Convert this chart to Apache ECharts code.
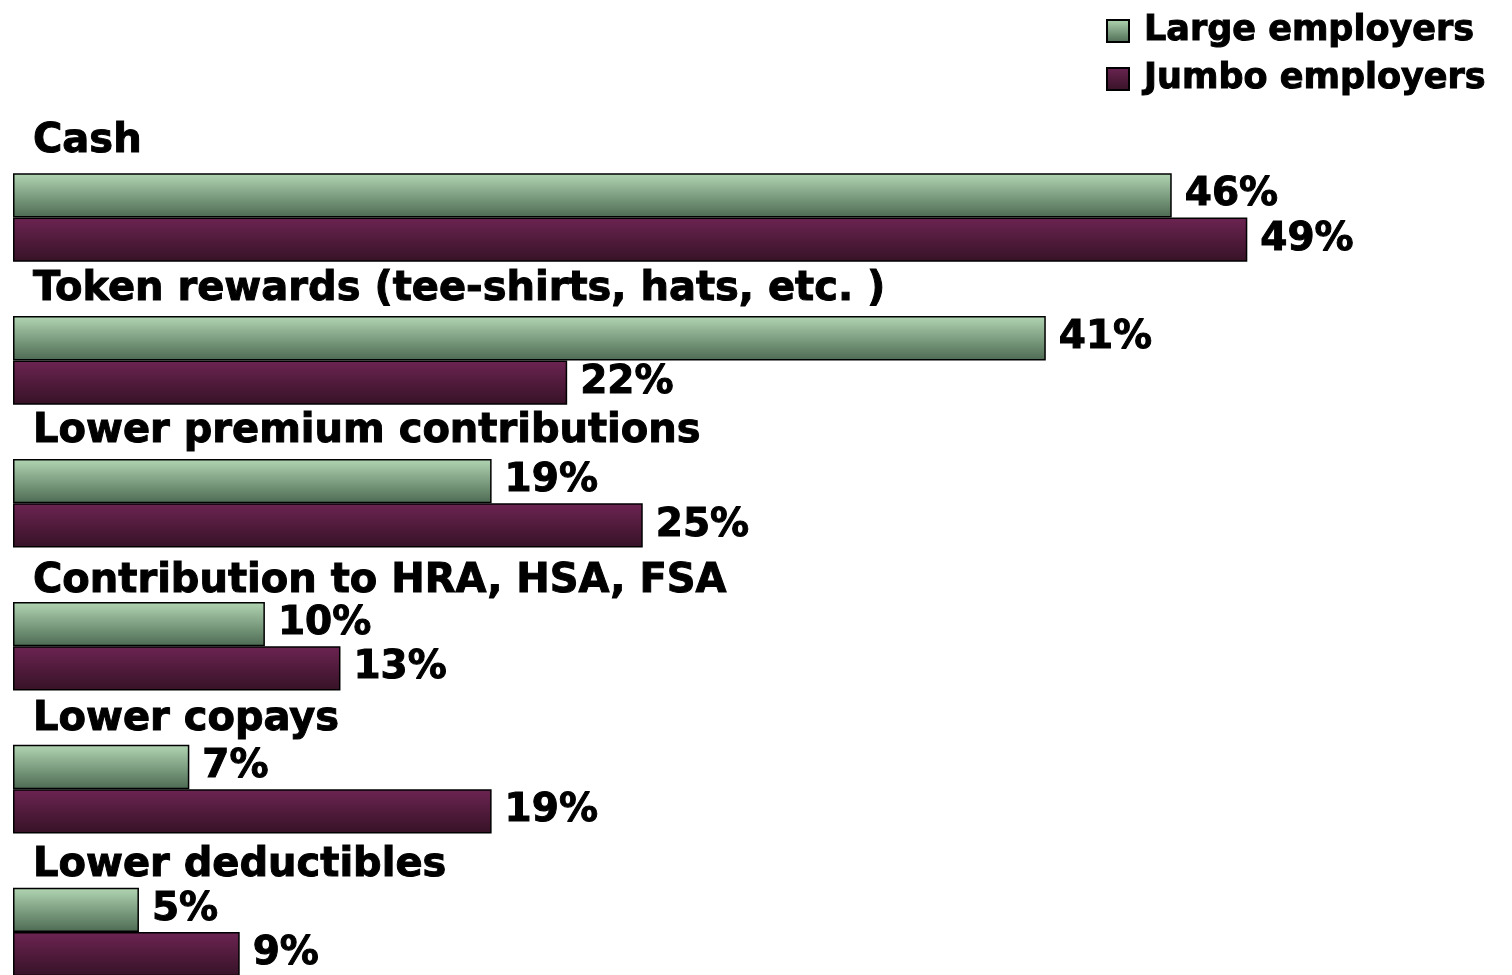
<!DOCTYPE html>
<html>
<head>
<meta charset="utf-8">
<script src="https://cdn.jsdelivr.net/npm/echarts@6/dist/echarts.min.js"></script>
<style>
html,body{margin:0;padding:0;background:#fff;overflow:hidden;}
#chart{width:1540px;height:1020px;}
</style>
</head>
<body>
<div id="chart"></div>
<script>
// ---- data ----
const categories = [
  'Cash',
  'Token rewards (tee-shirts, hats, etc. )',
  'Lower premium contributions',
  'Contribution to HRA, HSA, FSA',
  'Lower copays',
  'Lower deductibles'
];
const seriesNames = ['Large employers', 'Jumbo employers'];
const largeValues = [46, 41, 19, 10, 7, 5];
const jumboValues = [49, 22, 25, 13, 19, 9];

// ---- styling (kept separate from data) ----
const labelRaise = [64, 59, 60, 53, 58, 54]; // px the category label baseline sits above the band centre
const FONT = 'DejaVu Sans';
const heavy = { textBorderColor: '#000', textBorderWidth: 1 };

function grad(top, bottom) {
  return new echarts.graphic.LinearGradient(0, 0, 0, 1, [
    { offset: 0, color: top },
    { offset: 1, color: bottom }
  ]);
}

const rich = {};
labelRaise.forEach((r, i) => {
  rich['c' + i] = Object.assign({
    fontFamily: FONT, fontWeight: 'bold', fontSize: 40, color: '#000',
    lineHeight: 46,
    padding: [0, 0, 2 * (r + 12), 0]
  }, heavy);
});

const valueLabel = Object.assign({
  show: true, position: 'right', distance: 13, formatter: '{c}%',
  fontFamily: FONT, fontWeight: 'bold', fontSize: 39, color: '#000'
}, heavy);

const chart = echarts.init(document.getElementById('chart'), null, { renderer: 'canvas' });
chart.setOption({
  animation: false,
  backgroundColor: '#ffffff',
  legend: {
    orient: 'vertical',
    left: 1101,
    top: 8,
    icon: 'rect',
    itemWidth: 22,
    itemHeight: 22,
    itemGap: 12,
    textStyle: Object.assign({
      fontFamily: FONT, fontWeight: 'bold', fontSize: 35, color: '#000',
      lineHeight: 35, padding: [0, 0, 0, 10]
    }, heavy),
    data: seriesNames
  },
  grid: { left: 13, top: 146, width: 1511.4, height: 857.5, containLabel: false },
  xAxis: { type: 'value', min: 0, max: 60, show: false },
  yAxis: {
    type: 'category',
    inverse: true,
    data: categories,
    axisLine: { show: false },
    axisTick: { show: false },
    splitLine: { show: false },
    axisLabel: {
      inside: true,
      margin: 20,
      align: 'left',
      verticalAlign: 'middle',
      interval: 0,
      formatter: (v, i) => '{c' + i + '|' + v + '}',
      rich: rich
    },
    z: 10
  },
  series: [
    {
      name: seriesNames[0],
      type: 'bar',
      data: largeValues,
      barGap: '0%',
      barCategoryGap: '38%',
      itemStyle: { color: grad('#b2d6b3', '#4c6a52'), borderColor: '#000', borderWidth: 1.5 },
      label: valueLabel
    },
    {
      name: seriesNames[1],
      type: 'bar',
      data: jumboValues,
      barGap: '0%',
      barCategoryGap: '38%',
      itemStyle: { color: grad('#6c2452', '#361226'), borderColor: '#000', borderWidth: 1.5 },
      label: valueLabel
    }
  ]
});
</script>
</body>
</html>
